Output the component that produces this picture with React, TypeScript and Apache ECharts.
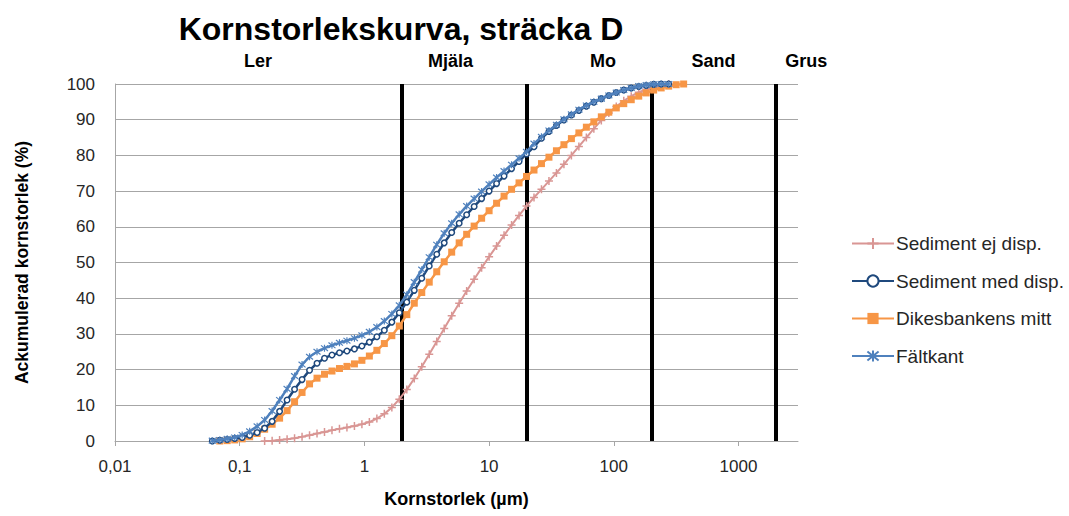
import React, { useEffect, useRef } from "react";
import * as echarts from "echarts";

// Instrument size classes (µm)
const sizes = [
  0.0603, 0.0692, 0.0794, 0.0912, 0.1047, 0.1202, 0.138, 0.1585, 0.182, 0.2089,
  0.2399, 0.2754, 0.3162, 0.3631, 0.4169, 0.4786, 0.5495, 0.631, 0.7244, 0.8318,
  0.955, 1.096, 1.259, 1.445, 1.66, 1.905, 2.188, 2.512, 2.884, 3.311,
  3.802, 4.365, 5.012, 5.754, 6.607, 7.586, 8.71, 10.0, 11.48, 13.18,
  15.14, 17.38, 19.95, 22.91, 26.3, 30.2, 34.67, 39.81, 45.71, 52.48,
  60.26, 69.18, 79.43, 91.2, 104.7, 120.2, 138.0, 158.5, 182.0, 208.9,
  239.9, 275.4, 316.2, 363.1,
];

const sedimentEjDisp = [
  null, null, null, null, null, null, null, 0, 0.1, 0.3,
  0.5, 0.8, 1.2, 1.6, 2.1, 2.5, 3.0, 3.4, 3.8, 4.2,
  4.7, 5.3, 6.3, 7.6, 9.4, 11.7, 14.4, 17.5, 20.8, 24.3,
  27.9, 31.5, 35.1, 38.6, 42.0, 45.3, 48.5, 51.6, 54.6, 57.6,
  60.5, 63.2, 65.8, 68.2, 70.5, 72.8, 75.1, 77.5, 80.0, 82.5,
  85.0, 87.5, 89.8, 91.9, 93.7, 95.3, 96.6, 97.7, 98.5, 99.1,
  99.6, 100, null, null,
];

const sedimentMedDisp = [
  0, 0.2, 0.4, 0.7, 1.0, 1.6, 2.4, 3.6, 5.5, 8.3,
  11.5, 14.5, 17.2, 19.8, 21.8, 23.2, 24.1, 24.7, 25.2, 25.8,
  26.6, 27.7, 29.2, 31.0, 33.3, 35.9, 38.9, 42.2, 45.6, 49.0,
  52.3, 55.5, 58.4, 61.0, 63.4, 65.7, 67.9, 70.0, 72.1, 74.2,
  76.3, 78.3, 80.4, 82.4, 84.8, 86.7, 88.4, 89.9, 91.3, 92.6,
  93.8, 94.9, 95.9, 96.8, 97.6, 98.3, 98.9, 99.3, 99.6, 99.9,
  100, 100, null, null,
];

const dikesbankensMitt = [
  null, 0, 0.1, 0.3, 0.6, 1.2, 2.1, 3.3, 4.7, 6.4,
  8.5, 11.0, 13.6, 16.0, 17.6, 18.7, 19.6, 20.3, 20.9, 21.6,
  22.6, 23.8, 25.4, 27.3, 29.5, 32.2, 35.4, 38.6, 41.6, 44.5,
  47.4, 50.2, 52.9, 55.5, 57.9, 60.2, 62.4, 64.5, 66.6, 68.6,
  70.5, 72.3, 74.1, 75.9, 77.7, 79.5, 81.3, 83.0, 84.7, 86.3,
  87.9, 89.4, 90.8, 92.1, 93.3, 94.5, 95.6, 96.6, 97.5, 98.3,
  98.9, 99.4, 99.8, 100,
];

const faltkant = [
  0.1, 0.3, 0.6, 1.0, 1.7, 2.7, 4.1, 5.9, 8.4, 11.5,
  14.6, 18.2, 21.4, 23.6, 25.0, 26.0, 26.8, 27.5, 28.1, 28.8,
  29.6, 30.6, 31.9, 33.6, 35.6, 38.0, 41.0, 44.5, 48.0, 51.5,
  55.0, 58.2, 61.0, 63.5, 65.8, 67.9, 69.9, 71.9, 73.8, 75.6,
  77.4, 79.2, 81.0, 83.3, 85.2, 87.0, 88.6, 90.1, 91.5, 92.8,
  94.0, 95.0, 95.9, 96.8, 97.6, 98.3, 98.9, 99.4, 99.7, 99.9,
  100, 100, null, null,
];

const seriesNames = ["Sediment ej disp.", "Sediment med disp.", "Dikesbankens mitt", "Fältkant"];

// Fraction boundaries (µm) and fraction names with label anchor sizes (µm)
const boundaries = [2, 20, 200, 2000];
const zoneNames = ["Ler", "Mjäla", "Mo", "Sand", "Grus"];
const zoneLabelAt = [0.14, 4.9, 82, 630, 3500];

const xMin = 0.01;
const xMax = 3000;
const yTicks = [0, 10, 20, 30, 40, 50, 60, 70, 80, 90, 100];

const toPairs = (vals: (number | null)[]) =>
  sizes.map((s, i) => [s, vals[i]]).filter((p) => p[1] !== null);

const PLUS = "path://M0,5L10,5M5,0L5,10";
const STAR = "path://M1,1L9,9M9,1L1,9M5,0L5,10";

const FONT = "'Liberation Sans', Arial, sans-serif";

export default function App() {
  const ref = useRef<HTMLDivElement>(null);
  useEffect(() => {
    if (!ref.current) return;
    const chart = echarts.init(ref.current, null, { renderer: "svg" });
    const option: any = {
      animation: false,
      backgroundColor: "#ffffff",
      title: {
        text: "Kornstorlekskurva, sträcka D",
        left: 396,
        top: 8,
        textAlign: "center",
        textStyle: { fontFamily: FONT, fontSize: 32, fontWeight: "bold", color: "#000" },
      },
      legend: {
        orient: "vertical",
        left: 851,
        top: 234,
        padding: 0,
        itemWidth: 42,
        itemHeight: 14,
        itemGap: 18.5,
        textStyle: { fontFamily: FONT, fontSize: 19, color: "#262626", padding: [0, 0, 0, -3] },
        data: seriesNames,
      },
      grid: { left: 115, right: 271, top: 84, bottom: 75, containLabel: false },
      xAxis: {
        type: "log",
        logBase: 10,
        min: xMin,
        max: xMax,
        name: "Kornstorlek (µm)",
        nameLocation: "middle",
        nameGap: 49,
        nameTextStyle: { fontFamily: FONT, fontSize: 18, fontWeight: "bold", color: "#000" },
        axisLine: { show: true, lineStyle: { color: "#A6A6A6", width: 1 } },
        axisTick: { show: true, length: 5, lineStyle: { color: "#A6A6A6" } },
        minorTick: { show: false },
        splitLine: { show: false },
        axisLabel: {
          fontFamily: FONT,
          fontSize: 17,
          color: "#262626",
          margin: 17,
          showMaxLabel: false,
          formatter: (v: number) => String(Number(v.toPrecision(6))).replace(".", ","),
        },
      },
      yAxis: {
        type: "value",
        min: yTicks[0],
        max: yTicks[yTicks.length - 1],
        interval: 10,
        name: "Ackumulerad kornstorlek (%)",
        nameLocation: "middle",
        nameGap: 84,
        nameTextStyle: { fontFamily: FONT, fontSize: 17.5, fontWeight: "bold", color: "#000" },
        axisLine: { show: true, lineStyle: { color: "#A6A6A6", width: 1 } },
        axisTick: { show: false },
        splitLine: { show: true, lineStyle: { color: "#A6A6A6", width: 1 } },
        axisLabel: { fontFamily: FONT, fontSize: 17, color: "#262626", margin: 20 },
      },
      series: [
        {
          name: seriesNames[0],
          type: "line",
          data: toPairs(sedimentEjDisp),
          symbol: PLUS,
          symbolSize: 8,
          showAllSymbol: true,
          lineStyle: { color: "#D99694", width: 2 },
          itemStyle: { color: "#D99694", borderColor: "#D99694", borderWidth: 1.5 },
          z: 3,
          markLine: {
            silent: true,
            symbol: ["none", "none"],
            label: { show: false },
            lineStyle: { color: "#000", width: 4, type: "solid" },
            data: boundaries.map((b) => ({ xAxis: b })),
            z: 2,
          },
        },
        {
          name: seriesNames[1],
          type: "line",
          data: toPairs(sedimentMedDisp),
          symbol: "circle",
          symbolSize: 5.5,
          showAllSymbol: true,
          lineStyle: { color: "#1F497D", width: 2.5 },
          itemStyle: { color: "#ffffff", borderColor: "#1F497D", borderWidth: 1.5 },
          z: 4,
        },
        {
          name: seriesNames[2],
          type: "line",
          data: toPairs(dikesbankensMitt),
          symbol: "rect",
          symbolSize: 7,
          showAllSymbol: true,
          lineStyle: { color: "#F79646", width: 2.5 },
          itemStyle: { color: "#F79646" },
          z: 3,
        },
        {
          name: seriesNames[3],
          type: "line",
          data: toPairs(faltkant),
          symbol: STAR,
          symbolSize: 7,
          showAllSymbol: true,
          lineStyle: { color: "#4F81BD", width: 2.5 },
          itemStyle: { color: "#4F81BD", borderColor: "#4F81BD", borderWidth: 1.2 },
          z: 5,
        },
      ],
    };
    chart.setOption(option);
    const yTop = chart.convertToPixel({ yAxisIndex: 0 }, 100) as number;
    chart.setOption({
      graphic: zoneNames.map((name, i) => ({
        type: "text",
        x: chart.convertToPixel({ xAxisIndex: 0 }, zoneLabelAt[i]) as number,
        y: yTop - 23,
        style: {
          text: name,
          fontFamily: FONT,
          fontSize: 18,
          fontWeight: "bold",
          fill: "#000",
          align: "center",
          verticalAlign: "middle",
        },
      })),
    });
    return () => chart.dispose();
  }, []);
  return (
    <div
      ref={ref}
      style={{ position: "fixed", left: 0, top: 0, width: 1069, height: 516 }}
    />
  );
}
